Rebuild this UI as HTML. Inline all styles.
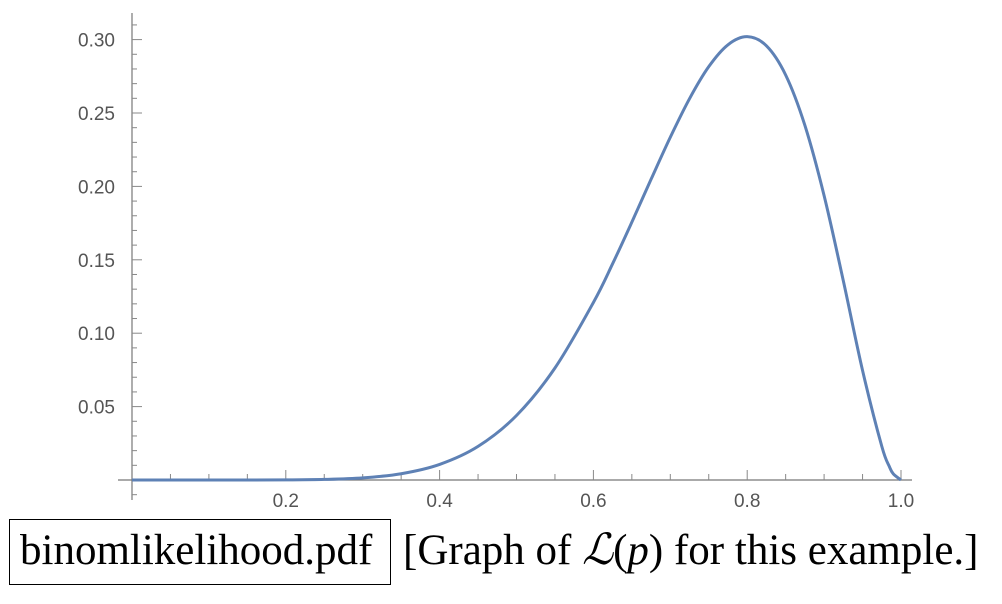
<!DOCTYPE html>
<html><head><meta charset="utf-8"><style>
html,body{margin:0;padding:0;background:#fff;width:1002px;height:604px;overflow:hidden}
#cap{position:absolute;left:0;top:512px;width:1002px;height:92px;font-family:"Liberation Serif",serif;font-size:43px;line-height:52px;color:#000;white-space:nowrap}
#box{position:absolute;left:9px;top:7px;width:382px;height:66px;border:1.5px solid #000;box-sizing:border-box}
#fname{position:absolute;left:20px;top:13px;font-family:"Liberation Serif",serif}
#desc{position:absolute;left:403px;top:13px;font-family:"Liberation Serif",serif}
</style></head><body>
<svg id="chart" width="1002" height="520" style="position:absolute;left:0;top:0" font-family="Liberation Sans, sans-serif"></svg>
<div id="cap">
<div id="box"></div>
<span id="fname">binomlikelihood.pdf</span>
<span id="desc">[Graph of <i>ℒ</i>(<i>p</i>) for this example.]</span>
</div>
<script>
const pValues=[0,0.05,0.1,0.15,0.2,0.25,0.3,0.35,0.4,0.45,0.5,0.55,0.6,0.625,0.65,0.675,0.7,0.725,0.75,0.775,0.8,0.825,0.85,0.875,0.9,0.925,0.95,0.975,0.985,0.99,1.0];
const likelihood=[0,0,0.000000,0.000002,0.0000737,0.000386,0.001447,0.004281,0.010617,0.02289,0.043945,0.07630,0.12093,0.14734,0.17565,0.20484,0.23347,0.25977,0.28157,0.29648,0.30199,0.29575,0.27590,0.24160,0.19371,0.13567,0.07463,0.02297,0.00897,0.00415,0];
const xTicks=[0.2,0.4,0.6,0.8,1.0];
const xTickLabels=["0.2","0.4","0.6","0.8","1.0"];
const yTicks=[0.05,0.10,0.15,0.20,0.25,0.30];
const yTickLabels=["0.05","0.10","0.15","0.20","0.25","0.30"];
const NS="http://www.w3.org/2000/svg";
const svg=document.getElementById('chart');
const X=v=>132+v*769;
const Y=v=>480-v*1468;
function mk(t,a,p){const e=document.createElementNS(NS,t);for(const k in a)e.setAttribute(k,a[k]);(p||svg).appendChild(e);return e;}
let ax=mk('line',{x1:118,y1:480,x2:912,y2:480,stroke:'#777','stroke-width':1.2});


let ay=mk('line',{x1:132,y1:13,x2:132,y2:500,stroke:'#777','stroke-width':1.2});


for(let i=1;i<=20;i++){const v=i*0.05;const major=i%4===0;
 const t=mk('line',{x1:X(v),x2:X(v),y1:480,y2:major?470:474,stroke:'#888','stroke-width':1});
 
 }
xTicks.forEach((v,i)=>{const t=mk('text',{x:X(v),y:507,'text-anchor':'middle','font-size':19,fill:'#555'});t.textContent=xTickLabels[i];
 
 });
for(let i=1;i<=31;i++){const v=i*0.01;const major=i%5===0;
 const t=mk('line',{x1:132,x2:major?142:137,y1:Y(v),y2:Y(v),stroke:'#888','stroke-width':1});
 
 }
let tb=mk('line',{x1:132,x2:137,y1:Y(-0.01),y2:Y(-0.01),stroke:'#888','stroke-width':1});


yTicks.forEach((v,i)=>{const t=mk('text',{x:115,y:Y(v)+7,'text-anchor':'end','font-size':19,fill:'#555'});t.textContent=yTickLabels[i];
 
 });
const pts=pValues.map((p,i)=>[X(p),Y(likelihood[i])]);
let d='M'+pts[0][0]+','+pts[0][1];
for(let i=0;i<pts.length-1;i++){const p0=pts[Math.max(0,i-1)],p1=pts[i],p2=pts[i+1],p3=pts[Math.min(pts.length-1,i+2)];
 const c1=[p1[0]+(p2[0]-p0[0])/6,p1[1]+(p2[1]-p0[1])/6],c2=[p2[0]-(p3[0]-p1[0])/6,p2[1]-(p3[1]-p1[1])/6];
 d+=` C${c1[0]},${Math.min(c1[1],480)} ${c2[0]},${Math.min(c2[1],480)} ${p2[0]},${p2[1]}`;}
const c=mk('path',{d:d,fill:'none',stroke:'#5E81B5','stroke-width':3,'stroke-linejoin':'round'});


</script>
</body></html>
